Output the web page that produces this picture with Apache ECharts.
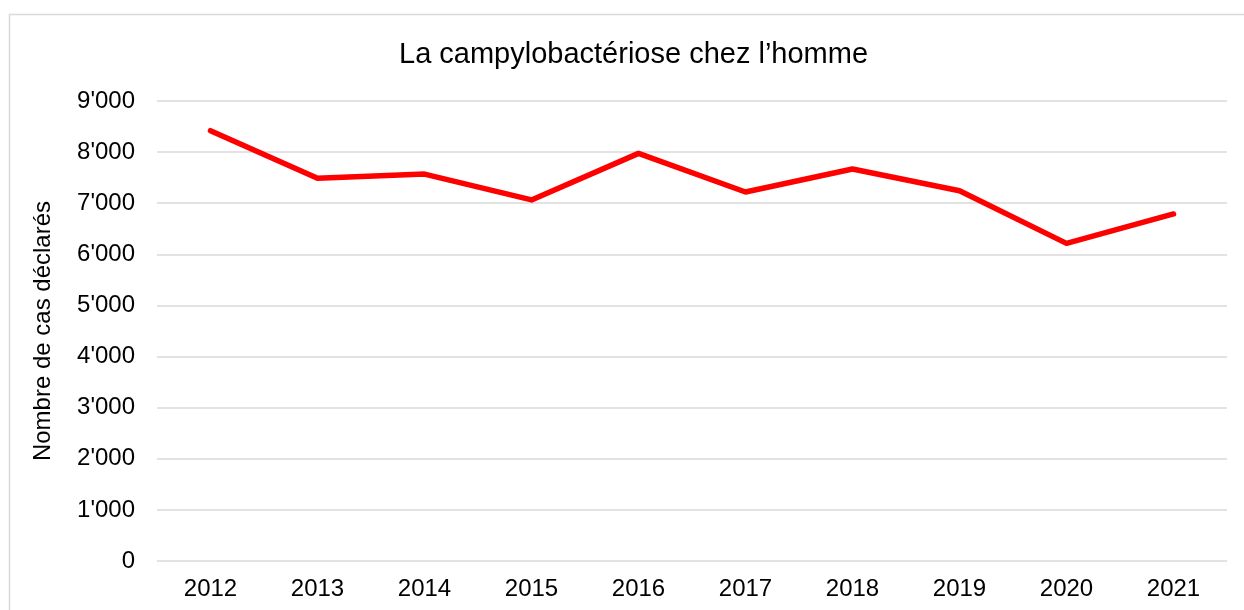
<!DOCTYPE html>
<html>
<head>
<meta charset="utf-8">
<script src="https://cdn.jsdelivr.net/npm/echarts@6/dist/echarts.min.js"></script>
<style>
  html, body { margin: 0; padding: 0; background: #fff; }
  #chart { width: 1244px; height: 610px; }
</style>
</head>
<body>
<div id="chart"></div>
<script>
const years = ['2012', '2013', '2014', '2015', '2016', '2017', '2018', '2019', '2020', '2021'];
const cases = [8420, 7490, 7570, 7065, 7975, 7220, 7670, 7245, 6215, 6790];
const chartTitle = 'La campylobactériose chez l’homme';
const yName = 'Nombre de cas déclarés';

const chart = echarts.init(document.getElementById('chart'), null, { renderer: 'canvas' });

// 9000 -> 9'000
function fmt(v) {
  return String(v).replace(/\B(?=(\d{3})+(?!\d))/g, "'");
}

const font = 'Liberation Sans, Arial, sans-serif';

var option = {
  animation: false,
  textStyle: { fontFamily: font },
  graphic: [{
    type: 'rect',
    shape: { x: 9.5, y: 14.5, width: 1300, height: 700 },
    style: { fill: 'none', stroke: '#d9d9d9', lineWidth: 1.5 },
    silent: true
  }],
  title: {
    text: chartTitle,
    left: 394,
    top: 35,
    textStyle: { fontFamily: font, fontSize: 29, fontWeight: 'normal', color: '#000' }
  },
  grid: {
    left: 157,
    right: 17,
    top: 101,
    bottom: 49
  },
  xAxis: {
    type: 'category',
    data: years,
    boundaryGap: true,
    axisLine: { show: false },
    axisTick: { show: false },
    axisLabel: { color: '#000', fontSize: 24, fontFamily: font, margin: 16 }
  },
  yAxis: {
    type: 'value',
    min: 0,
    max: 9000,
    interval: 1000,
    name: yName,
    nameLocation: 'middle',
    nameRotate: 90,
    nameGap: 102,
    nameTextStyle: { color: '#000', fontSize: 24, fontFamily: font },
    axisLine: { show: false },
    axisTick: { show: false },
    axisLabel: { color: '#000', fontSize: 24, fontFamily: font, margin: 22, formatter: fmt },
    splitLine: { lineStyle: { color: '#d9d9d9', width: 1.5 } }
  },
  series: [{
    type: 'line',
    data: cases,
    symbol: 'none',
    lineStyle: { color: '#ff0000', width: 5.5, cap: 'round', join: 'round' },
    itemStyle: { color: '#ff0000' }
  }]
};
chart.setOption(option);
</script>
</body>
</html>
